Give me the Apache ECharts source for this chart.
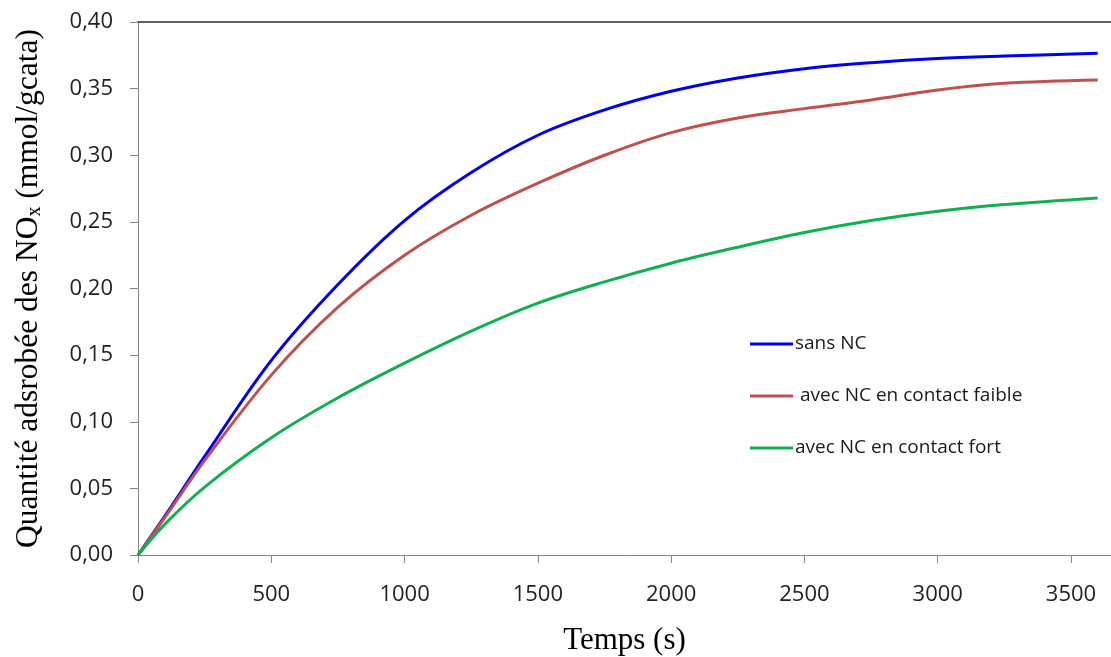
<!DOCTYPE html>
<html>
<head>
<meta charset="utf-8">
<script src="https://cdn.jsdelivr.net/npm/echarts@6/dist/echarts.min.js"></script>
<style>
html,body{margin:0;padding:0;background:#fff;}
#chart{width:1111px;height:657px;}
</style>
</head>
<body>
<div id="chart"></div>
<script>
// Time (s)
var temps = [0, 100, 250, 500, 750, 1000, 1250, 1500, 1750, 2000, 2250, 2500, 2750, 3000, 3250, 3600];
// Adsorbed NOx quantity (mmol/gcata)
var sansNC = [0, 0.029, 0.074, 0.146, 0.203, 0.251, 0.287, 0.315, 0.334, 0.348, 0.358, 0.365, 0.3695, 0.3727, 0.3745, 0.3765];
var contactFaible = [0, 0.028, 0.071, 0.135, 0.186, 0.225, 0.255, 0.279, 0.300, 0.317, 0.328, 0.335, 0.3415, 0.349, 0.354, 0.3565];
var contactFort = [0, 0.023, 0.051, 0.088, 0.118, 0.144, 0.168, 0.189, 0.205, 0.219, 0.231, 0.242, 0.251, 0.258, 0.263, 0.268];
var seriesNames = ['sans NC', 'avec NC en contact faible', 'avec NC en contact fort'];
var yTicks = ['0,00','0,05','0,10','0,15','0,20','0,25','0,30','0,35','0,40'];

function pairs(xs, ys) { return xs.map(function (x, i) { return [x, ys[i]]; }); }

var chart = echarts.init(document.getElementById('chart'), null, {renderer: 'canvas'});
var axisColor = '#868686';
var option = {
  backgroundColor: '#ffffff',
  animation: false,
  grid: {left: 138, top: 22, right: 0, bottom: 102, containLabel: false, outerBoundsMode: 'none'},
  legend: {
    orient: 'vertical',
    left: 750,
    top: 334,
    padding: 0,
    itemWidth: 43,
    itemHeight: 3,
    itemGap: 32,
    icon: 'rect',
    data: seriesNames,
    formatter: function (n) { return n === seriesNames[1] ? ' ' + n : n; },
    textStyle: {fontFamily: 'Open Sans', fontSize: 19, color: '#1a1a1a', lineHeight: 20, padding: [0, 0, 0, -3]}
  },
  xAxis: [{
    type: 'value',
    min: 0,
    max: 3650,
    interval: 500,
    name: 'Temps (s)',
    nameLocation: 'middle',
    nameGap: 70,
    nameTextStyle: {fontFamily: 'Liberation Serif', fontSize: 31, color: '#000'},
    axisLine: {show: true, lineStyle: {color: axisColor, width: 1}},
    axisTick: {show: true, length: 8, lineStyle: {color: axisColor}},
    axisLabel: {showMaxLabel: false, margin: 29, fontFamily: 'Open Sans', fontSize: 22, color: '#222',
      formatter: function (v) { return String(v); }},
    splitLine: {show: false}
  }, {
    type: 'value',
    position: 'top',
    min: 0,
    max: 3650,
    axisLine: {show: true, onZero: false, lineStyle: {color: '#2b2b2b', width: 1.5}},
    axisTick: {show: false},
    axisLabel: {show: false},
    splitLine: {show: false}
  }],
  yAxis: {
    type: 'value',
    min: 0,
    max: 0.4,
    interval: 0.05,
    name: '{a|Quantité adsrobée des NO}{s|x}{a| (mmol/gcata)}',
    nameLocation: 'middle',
    nameGap: 92,
    nameRotate: 90,
    nameTextStyle: {
      rich: {
        a: {fontFamily: 'Liberation Serif', fontSize: 31.5, color: '#000', lineHeight: 35},
        s: {fontFamily: 'Liberation Serif', fontSize: 20, color: '#000', lineHeight: 35, padding: [12, 0, 0, 0]}
      }
    },
    axisLine: {show: true, lineStyle: {color: axisColor, width: 1}},
    axisTick: {show: true, length: 8, lineStyle: {color: axisColor}},
    axisLabel: {
      margin: 25, fontFamily: 'Open Sans', fontSize: 22, color: '#222',
      formatter: function (v) { return yTicks[Math.round(v / 0.05)]; }
    },
    splitLine: {show: false}
  },
  series: [
    {name: seriesNames[0], type: 'line', data: pairs(temps, sansNC), smooth: 0.35, symbol: 'none', lineStyle: {color: '#0000ee', width: 3}, itemStyle: {color: '#0000ee'}},
    {name: seriesNames[1], type: 'line', data: pairs(temps, contactFaible), smooth: 0.35, symbol: 'none', lineStyle: {color: '#c0504d', width: 3}, itemStyle: {color: '#c0504d'}},
    {name: seriesNames[2], type: 'line', data: pairs(temps, contactFort), smooth: 0.35, symbol: 'none', lineStyle: {color: '#10b050', width: 3}, itemStyle: {color: '#10b050'}}
  ]
};
chart.setOption(option);
</script>
</body>
</html>
